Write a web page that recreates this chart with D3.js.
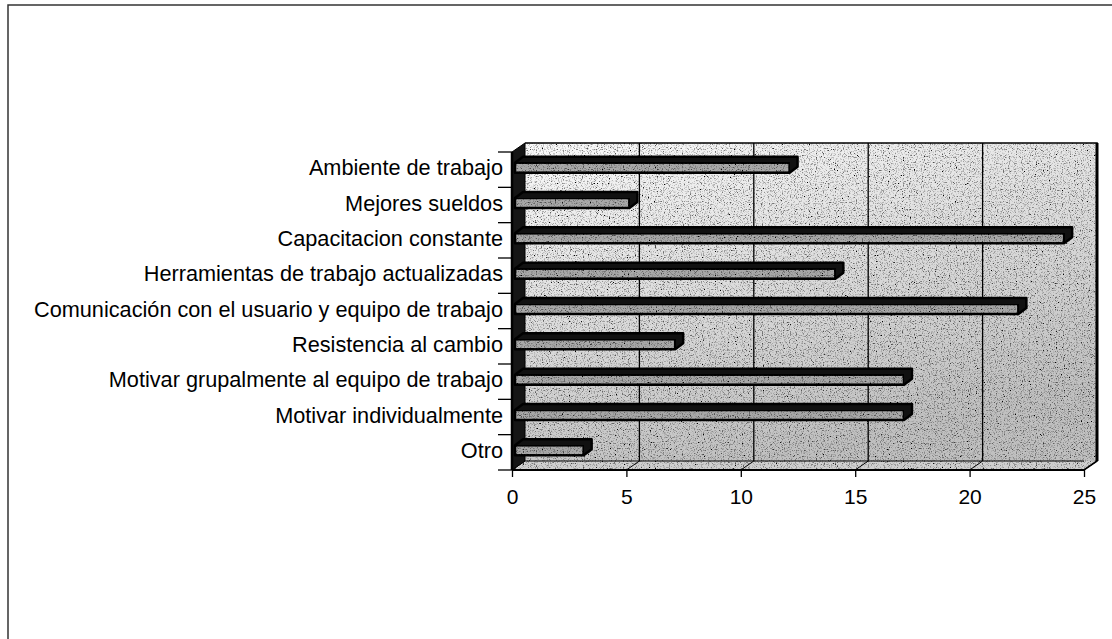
<!DOCTYPE html>
<html>
<head>
<meta charset="utf-8">
<script src="https://cdn.jsdelivr.net/npm/d3@7"></script>
<style>
  body { margin: 0; background: #fff; }
  text { font-family: "Liberation Sans", Arial, sans-serif; fill: #000; }
</style>
</head>
<body>
<script>
// categories, top to bottom
var categories = ["Ambiente de trabajo", "Mejores sueldos", "Capacitacion constante",
  "Herramientas de trabajo actualizadas", "Comunicación con el usuario y equipo de trabajo",
  "Resistencia al cambio", "Motivar grupalmente al equipo de trabajo",
  "Motivar individualmente ", "Otro"];
var values = [12, 5, 24, 14, 22, 7, 17, 17, 3];
var xTicks = [0, 5, 10, 15, 20, 25];

var W = 1112, H = 639;
var dx = 13, dy = -9;          // depth of the 3d walls
var bdx = 8, bdy = -6;         // depth of each bar

var svg = d3.select("body").append("svg").attr("width", W).attr("height", H);
var defs = svg.append("defs");

// grainy scan look
var f = defs.append("filter").attr("id", "grain").attr("x", 0).attr("y", 0).attr("width", "100%").attr("height", "100%");
f.append("feTurbulence").attr("type", "fractalNoise").attr("baseFrequency", 0.85).attr("numOctaves", 2).attr("seed", 4).attr("result", "n");
f.append("feColorMatrix").attr("in", "n").attr("type", "matrix")
  .attr("values", "0 0 0 0 0  0 0 0 0 0  0 0 0 0 0  -3.2 0 0 0 1.6").attr("result", "dots");
f.append("feComposite").attr("in", "dots").attr("in2", "SourceGraphic").attr("operator", "in").attr("result", "d2");
var fm = f.append("feMerge");
fm.append("feMergeNode").attr("in", "SourceGraphic");
fm.append("feMergeNode").attr("in", "d2");

var g = defs.append("linearGradient").attr("id", "wall").attr("x1", 0).attr("y1", 0).attr("x2", 0.4).attr("y2", 1);
g.append("stop").attr("offset", "0%").attr("stop-color", "#fafafa");
g.append("stop").attr("offset", "100%").attr("stop-color", "#c0c0c0");

var x = d3.scaleLinear().domain([0, 25]).range([512, 1084]);
var y = d3.scaleBand().domain(categories).range([152, 470]);

// outer frame
svg.append("path").attr("d", "M8," + H + "V5H" + W)
  .attr("fill", "none").attr("stroke", "#333").attr("stroke-width", 1.5);

var yTop = y.range()[0], yBot = y.range()[1];
var xl = x(0), xr = x(25);

// back wall
svg.append("rect").attr("x", xl + dx).attr("y", yTop + dy).attr("width", xr - xl).attr("height", yBot - yTop)
  .attr("fill", "url(#wall)").attr("filter", "url(#grain)");

// floor
svg.append("path")
  .attr("d", d3.line()([[xl, yBot], [xl + dx, yBot + dy], [xr + dx, yBot + dy], [xr, yBot]]) + "Z")
  .attr("fill", "#d0d0d0").attr("filter", "url(#grain)");

// grid lines on back wall and floor
var grid = svg.append("g");
xTicks.slice(1, -1).forEach(function(v) {
  grid.append("line").attr("x1", x(v) + dx).attr("x2", x(v) + dx).attr("y1", yTop + dy).attr("y2", yBot + dy)
    .attr("stroke", "#000").attr("stroke-width", 1.3);
});
xTicks.forEach(function(v) {
  grid.append("line").attr("x1", x(v)).attr("y1", yBot).attr("x2", x(v) + dx).attr("y2", yBot + dy)
    .attr("stroke", "#000").attr("stroke-width", 1);
});

// wall borders
svg.append("path").attr("d", "M" + (xl + dx) + "," + (yTop + dy) + "H" + (xr + dx) + "V" + (yBot + dy) + "L" + xr + "," + yBot + "H" + xl)
  .attr("fill", "none").attr("stroke", "#000").attr("stroke-width", 1.6);
svg.append("line").attr("x1", xr + dx).attr("x2", xr + dx).attr("y1", yTop + dy).attr("y2", yBot + dy)
  .attr("stroke", "#000").attr("stroke-width", 3);
svg.append("line").attr("x1", xl + dx).attr("x2", xr).attr("y1", yBot + dy).attr("y2", yBot + dy)
  .attr("stroke", "#000").attr("stroke-width", 1);

// left wall (dark)
svg.append("path")
  .attr("d", d3.line()([[xl, yTop], [xl + dx, yTop + dy], [xl + dx, yBot + dy], [xl, yBot]]) + "Z")
  .attr("fill", "#151515").attr("stroke", "#000");

// bars
var bars = svg.append("g");
categories.forEach(function(c, i) {
  var cy = y(c) + y.bandwidth() / 2 - 2;
  var x0 = x(0) + 3, x1 = x(values[i]) + 3;
  var y0 = cy - 5, y1 = cy + 5;
  // top + end faces
  bars.append("path")
    .attr("d", d3.line()([[x0, y0], [x0 + bdx, y0 + bdy], [x1 + bdx, y0 + bdy], [x1 + bdx, y1 + bdy], [x1, y1], [x0, y1]]) + "Z")
    .attr("fill", "#111").attr("stroke", "#000").attr("stroke-width", 2.5).attr("stroke-linejoin", "round");
  bars.append("rect").attr("x", x0).attr("y", y0).attr("width", x1 - x0).attr("height", y1 - y0)
    .attr("fill", "#a8a8a8").attr("stroke", "#000").attr("stroke-width", 2.5).attr("filter", "url(#grain)");
});

// axes
svg.append("line").attr("x1", xl).attr("x2", xl).attr("y1", yTop).attr("y2", yBot)
  .attr("stroke", "#000").attr("stroke-width", 2.5);
svg.append("line").attr("x1", xl).attr("x2", xr).attr("y1", yBot).attr("y2", yBot)
  .attr("stroke", "#000").attr("stroke-width", 2);

var xa = svg.append("g").attr("transform", "translate(0," + yBot + ")")
  .call(d3.axisBottom(x).tickValues(xTicks).tickSize(7).tickPadding(12));
xa.select(".domain").remove();
xa.selectAll("line").attr("stroke", "#000").attr("stroke-width", 1.3);
xa.selectAll("text").attr("font-size", 21).style("font-family", "'Liberation Sans', Arial, sans-serif").attr("fill", "#000");

// category ticks at band edges
var edges = categories.map(function(c) { return y(c); }).concat([yBot]);
svg.append("g").selectAll("line").data(edges).enter().append("line")
  .attr("x1", xl - 14).attr("x2", xl).attr("y1", function(d) { return d; }).attr("y2", function(d) { return d; })
  .attr("stroke", "#000").attr("stroke-width", 1.3);

svg.append("g").selectAll("text").data(categories).enter().append("text")
  .attr("x", xl - 9)
  .attr("y", function(d) { return y(d) + y.bandwidth() / 2 - 2; })
  .attr("dy", "0.35em")
  .attr("text-anchor", "end")
  .attr("font-size", 21.7)
  .text(function(d) { return d; });
</script>
</body>
</html>
